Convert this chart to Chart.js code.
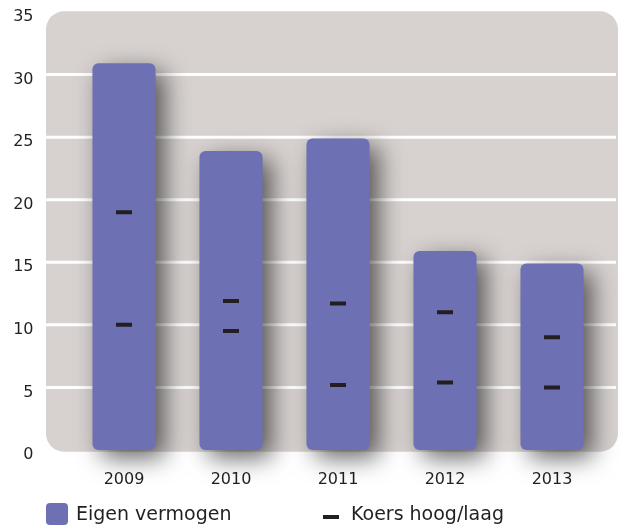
<!DOCTYPE html>
<html>
<head>
<meta charset="utf-8">
<script src="https://cdn.jsdelivr.net/npm/chart.js@4/dist/chart.umd.min.js"></script>
<style>
  html, body { margin: 0; padding: 0; background: #fff; }
  #wrap { position: relative; width: 622px; height: 526px; overflow: hidden; }
  #legend { position: absolute; left: 0; top: 0; width: 622px; height: 526px; pointer-events: none;
    font-family: "DejaVu Sans", sans-serif; font-size: 19px; color: #231f20; }
  .sw { position: absolute; }
  .lbl { position: absolute; line-height: 22px; white-space: nowrap; }
</style>
</head>
<body>
<div id="wrap">
  <canvas id="chart" width="622" height="526"></canvas>
  <div id="legend">
    <div class="sw" style="left:46px;top:503px;width:22px;height:22px;border-radius:4px;background:#6e70b4"></div>
    <div class="lbl" style="left:76px;top:502px">Eigen vermogen</div>
    <div class="sw" style="left:323px;top:515px;width:16px;height:4px;background:#231f20"></div>
    <div class="lbl" style="left:351px;top:502px">Koers hoog/laag</div>
  </div>
</div>
<script>
const jaren = ['2009', '2010', '2011', '2012', '2013'];
const eigenVermogen = [30.9, 23.9, 24.9, 15.9, 14.9];
const koersHoog = [19.0, 11.9, 11.7, 11.0, 9.0];
const koersLaag = [10.0, 9.5, 5.2, 5.4, 5.0];
const yTicks = [0, 5, 10, 15, 20, 25, 30, 35];

const barColor = '#6e70b4';
const markColor = '#231f20';
const font = { family: '"DejaVu Sans", sans-serif', size: 16 };
const BAR_INDEX = 2;

// grey rounded panel plus white gridlines behind the bars, drop shadow on the bars
const panel = {
  id: 'panel',
  beforeDatasetsDraw(chart) {
    const { ctx, chartArea: a, scales } = chart;
    const left = a.left - 24.5, right = a.right + 12.5;
    const top = a.top - 0.7, bottom = a.bottom + 1.7;
    ctx.save();
    ctx.fillStyle = '#d7d2d0';
    ctx.beginPath();
    ctx.roundRect(left, top, right - left, bottom - top, 18);
    ctx.fill();
    ctx.strokeStyle = '#ffffff';
    ctx.lineWidth = 3;
    yTicks.forEach(v => {
      if (v === 0 || v === 35) return;
      const y = scales.y.getPixelForValue(v);
      ctx.beginPath();
      ctx.moveTo(left, y);
      ctx.lineTo(right - 2, y);
      ctx.stroke();
    });
    ctx.restore();
  },
  beforeDatasetDraw(chart, args) {
    if (args.index !== BAR_INDEX) return;
    const ctx = chart.ctx;
    ctx.save();
    ctx.shadowColor = 'rgba(0,0,0,0.6)';
    ctx.shadowBlur = 24;
    ctx.shadowOffsetX = 9;
    ctx.shadowOffsetY = 8;
  },
  afterDatasetDraw(chart, args) {
    if (args.index !== BAR_INDEX) return;
    chart.ctx.restore();
  }
};

const markerSet = (label, data) => ({
  type: 'line',
  label,
  data,
  order: 1,
  showLine: false,
  pointStyle: 'line',
  pointRadius: 8,
  pointHoverRadius: 8,
  pointBorderWidth: 4,
  borderColor: markColor,
  backgroundColor: markColor
});

new Chart(document.getElementById('chart'), {
  type: 'bar',
  data: {
    labels: jaren,
    datasets: [
      markerSet('Koers hoog', koersHoog),
      markerSet('Koers laag', koersLaag),
      {
        label: 'Eigen vermogen',
        data: eigenVermogen,
        order: 2,
        clip: false,
        backgroundColor: barColor,
        borderRadius: 6,
        borderSkipped: false,
        barPercentage: 0.59,
        categoryPercentage: 1
      }
    ]
  },
  options: {
    responsive: false,
    animation: false,
    events: [],
    layout: { padding: { top: 11, right: 16.5, bottom: 36, left: 0 } },
    plugins: { legend: { display: false }, tooltip: { enabled: false } },
    scales: {
      x: {
        grid: { display: false, drawTicks: false },
        border: { display: false },
        ticks: { font, color: markColor, padding: 20 },
        afterFit(scale) { scale.height = 40; }
      },
      y: {
        min: 0,
        max: 35,
        grid: { display: false, drawTicks: false },
        border: { display: false },
        ticks: { stepSize: 5, font, color: markColor, padding: 37, labelOffset: 5 },
        afterFit(scale) {
          scale.width = 70.5;
          scale.paddingTop = 0;
          scale.paddingBottom = 0;
        }
      }
    }
  },
  plugins: [panel]
});
</script>
</body>
</html>
